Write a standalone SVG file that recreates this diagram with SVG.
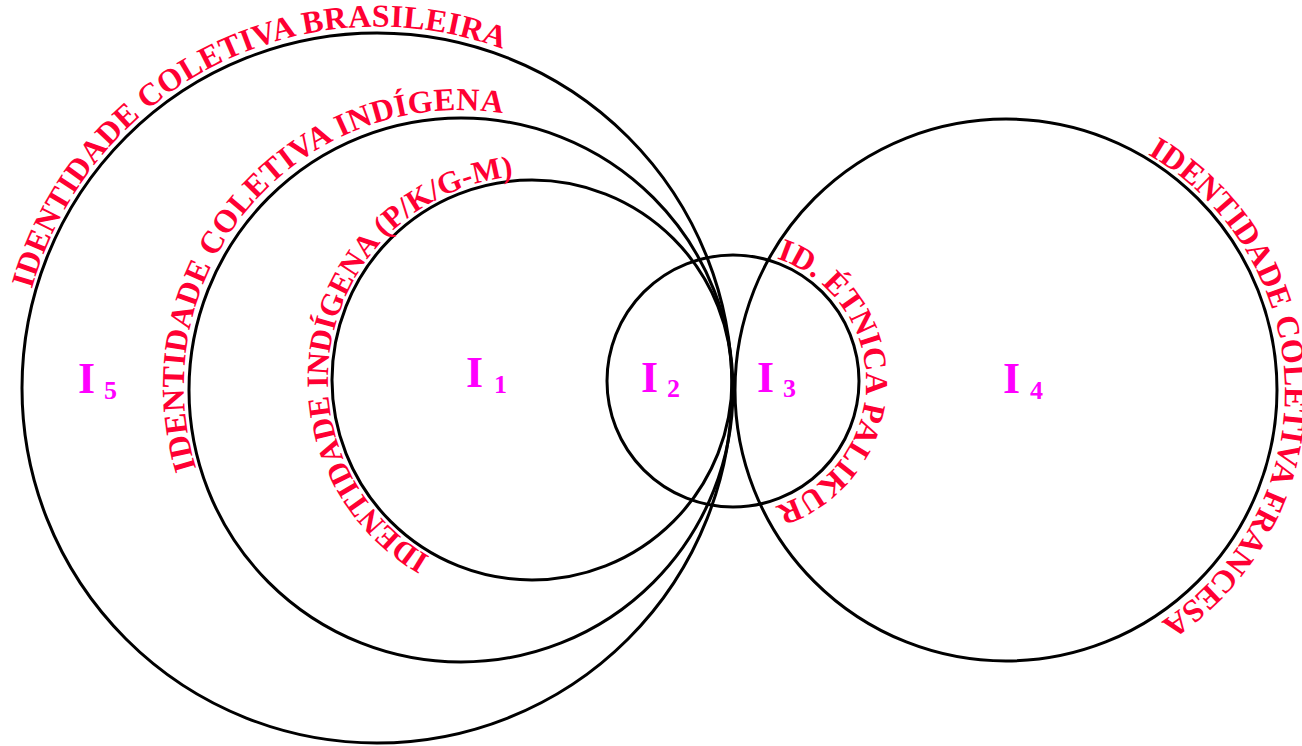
<svg xmlns="http://www.w3.org/2000/svg" xmlns:xlink="http://www.w3.org/1999/xlink" width="1302" height="746" viewBox="0 0 1302 746">
<style>
.c{fill:none;stroke:#000;stroke-width:3}
.t{font-family:"Liberation Serif","Times New Roman",serif;font-weight:bold;fill:#FF0033}
.l{font-family:"Liberation Serif","Times New Roman",serif;font-weight:bold;fill:#FF00FF;font-size:44px}
.d{font-size:26px}
</style>
<defs>
<path id="p5" d="M 31.9 289.1 A 359 359 0 1 1 722.1 486.9 A 359 359 0 1 1 31.9 289.1"/>
<path id="pm" d="M 196.4 468.4 A 276 276 0 1 1 725.6 311.6 A 276 276 0 1 1 196.4 468.4"/>
<path id="p1" d="M 430 556.7 A 204 204 0 1 1 634 203.3 A 204 204 0 1 1 430 556.7"/>
<path id="ps" d="M 776.4 258.5 A 130 130 0 1 1 689.6 503.5 A 130 130 0 1 1 776.4 258.5"/>
<path id="p4" d="M 1147.6 154.3 A 275 275 0 1 1 864.4 625.7 A 275 275 0 1 1 1147.6 154.3"/>
</defs>
<rect width="1302" height="746" fill="#fff"/>
<g id="brasileira">
<circle class="c" cx="377" cy="388" r="355"/>
<text class="t" font-size="32" letter-spacing="0.3"><textPath xlink:href="#p5" href="#p5">IDENTIDADE COLETIVA BRASILEIRA</textPath></text>
<text class="l" x="78" y="393">I<tspan class="d" x="104" y="399">5</tspan></text>
</g>
<g id="coletiva-indigena">
<circle class="c" cx="461" cy="390" r="272"/>
<text class="t" font-size="32" letter-spacing="0.4"><textPath xlink:href="#pm" href="#pm">IDENTIDADE COLETIVA INDÍGENA</textPath></text>
</g>
<g id="indigena">
<circle class="c" cx="532" cy="380" r="200"/>
<text class="t" font-size="31"><textPath xlink:href="#p1" href="#p1">IDENTIDADE INDÍGENA (P/K/G-M)</textPath></text>
<text class="l" x="466" y="387">I<tspan class="d" x="494" y="393">1</tspan></text>
</g>
<g id="palikur">
<circle class="c" cx="733" cy="381" r="126"/>
<text class="t" font-size="32"><textPath xlink:href="#ps" href="#ps">ID. ÉTNICA PALIKUR</textPath></text>
<text class="l" x="641" y="392">I<tspan class="d" x="667" y="397">2</tspan></text>
<text class="l" x="757" y="392">I<tspan class="d" x="783" y="397">3</tspan></text>
</g>
<g id="francesa">
<circle class="c" cx="1006" cy="390" r="271"/>
<text class="t" font-size="32"><textPath xlink:href="#p4" href="#p4">IDENTIDADE COLETIVA FRANCESA</textPath></text>
<text class="l" x="1003" y="393">I<tspan class="d" x="1030" y="399">4</tspan></text>
</g>
<g id="connectors"/>
</svg>
